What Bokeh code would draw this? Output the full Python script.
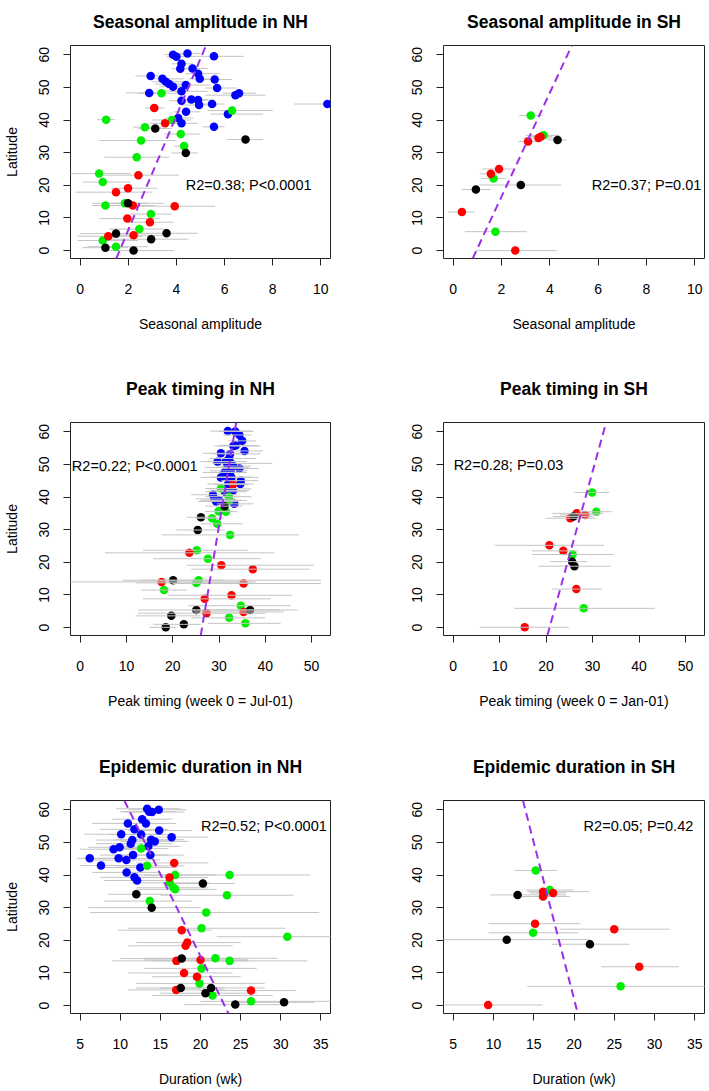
from bokeh.plotting import figure
from bokeh.layouts import column, row
from bokeh.models import Slope, Label, Range1d
from bokeh.embed import file_html
from bokeh.resources import INLINE

FONT = "Liberation Sans"

# ---------------- data: (latitude, estimate, lower, upper) ----------------
AMP_NH_BLUE = [
    (60.0, 3.86, 3.5, 4.5), (59.4, 4.00, 3.6, 4.5), (60.4, 4.46, 4.0, 5.0), (59.5, 5.56, 4.5, 6.8),
    (57.2, 4.21, 3.8, 4.7), (55.7, 4.16, 3.8, 4.6), (55.8, 4.67, 4.3, 5.3), (54.2, 4.90, 4.4, 5.8),
    (52.6, 4.97, 4.5, 5.4), (53.5, 2.93, 2.3, 3.5), (52.6, 3.42, 2.8, 4.3), (51.7, 3.56, 3.0, 4.3),
    (51.0, 3.70, 3.1, 4.5), (50.2, 3.86, 3.3, 4.6), (50.7, 4.39, 4.1, 5.4), (52.4, 5.59, 5.1, 6.3),
    (49.8, 5.69, 5.2, 6.5), (48.3, 2.87, 1.9, 3.3), (48.8, 4.21, 3.5, 5.3), (47.6, 6.45, 5.2, 7.7),
    (48.2, 6.60, 5.9, 7.3), (45.9, 4.21, 3.7, 5.0), (46.3, 4.62, 4.1, 5.3), (46.1, 4.90, 4.3, 5.6),
    (44.6, 4.94, 4.2, 5.7), (44.9, 5.48, 5.0, 6.0), (42.5, 4.40, 3.9, 5.0), (41.8, 6.14, 5.4, 7.6),
    (40.6, 4.07, 3.5, 4.7), (39.0, 4.21, 3.7, 4.9), (37.9, 5.56, 5.1, 6.0), (44.9, 10.27, 8.9, 11.6),
]
AMP_NH_GREEN = [
    (40.1, 1.08, 0.7, 1.45), (48.2, 3.38, 2.4, 4.4), (42.9, 6.31, 5.3, 8.0), (40.0, 3.82, 3.0, 4.6),
    (37.8, 2.69, 2.2, 3.4), (35.7, 4.18, 3.5, 5.0), (33.7, 2.53, 0.8, 4.0), (32.0, 4.32, 3.9, 4.5),
    (28.6, 2.35, 1.0, 3.7), (23.6, 0.79, -0.5, 2.1), (21.0, 0.94, 0.1, 2.1), (13.8, 1.05, 0.5, 2.0),
    (14.5, 1.86, 1.0, 2.8), (11.2, 2.94, 2.1, 3.8), (6.6, 2.46, 1.2, 3.6), (3.1, 0.94, -0.1, 2.4),
    (1.2, 1.49, 0.3, 2.8),
]
AMP_NH_RED = [
    (43.7, 3.08, 2.7, 3.5), (39.0, 3.53, 2.9, 4.4), (23.1, 2.42, 0.9, 4.1), (17.9, 1.49, -0.2, 3.0),
    (19.1, 1.99, 1.3, 3.2), (13.8, 2.19, 1.2, 3.1), (13.6, 3.93, 2.3, 5.6), (9.8, 1.96, 0.8, 3.3),
    (8.7, 2.90, 2.0, 3.9), (4.4, 1.17, -0.1, 2.6), (4.7, 2.22, 1.2, 3.4),
]
AMP_NH_BLACK = [
    (37.4, 3.12, 2.4, 3.8), (34.0, 6.87, 6.1, 7.6), (29.9, 4.39, 3.8, 4.9), (14.5, 1.99, 0.5, 3.5),
    (5.2, 1.49, 0.0, 3.0), (5.3, 3.59, 2.3, 4.9), (3.5, 2.95, 1.2, 4.5), (0.9, 1.05, 0.1, 2.0),
    (0.0, 2.22, 1.0, 3.9),
]

AMP_SH_GREEN = [(41.4, 3.21, 2.73, 3.7), (35.3, 3.74, 3.0, 4.4), (22.1, 1.67, 1.14, 2.18), (5.8, 1.75, 0.48, 3.05)]
AMP_SH_RED = [
    (34.5, 3.53, 2.9, 4.3), (34.9, 3.62, 3.2, 4.1), (33.4, 3.10, 2.69, 3.63), (25.0, 1.90, 1.21, 2.59),
    (23.5, 1.56, 1.1, 2.0), (11.8, 0.36, -0.23, 0.9), (0.0, 2.57, 0.94, 4.29),
]
AMP_SH_BLACK = [(33.9, 4.32, 3.9, 4.69), (18.7, 0.94, 0.36, 1.56), (20.1, 2.80, 1.08, 4.48)]

TIME_NH_BLUE = [
    (60.2, 31.9, 28.0, 37.0), (60.1, 33.5, 30.0, 37.5), (59.0, 34.4, 31.0, 37.0), (57.2, 35.0, 32.0, 38.0),
    (55.6, 33.1, 29.0, 39.0), (55.8, 33.6, 30.0, 38.5), (54.1, 35.5, 31.5, 39.5), (53.4, 30.4, 26.5, 35.0),
    (53.2, 32.4, 28.5, 39.0), (51.8, 32.2, 28.0, 38.0), (50.8, 29.7, 26.0, 33.5), (50.9, 31.5, 27.5, 36.0),
    (50.3, 32.6, 28.5, 41.5), (49.5, 33.0, 29.5, 37.0), (49.0, 31.8, 27.0, 36.5), (48.7, 34.4, 30.5, 38.5),
    (48.0, 32.5, 28.0, 36.0), (47.5, 31.2, 26.5, 36.0), (46.0, 30.4, 26.0, 35.0), (46.1, 31.9, 28.0, 37.0),
    (46.0, 32.7, 28.5, 38.5), (45.0, 34.7, 30.5, 38.5), (44.0, 34.6, 31.0, 37.5), (44.0, 32.0, 27.5, 36.0),
    (42.5, 32.0, 28.0, 37.0), (41.6, 31.3, 27.0, 36.0), (40.7, 28.7, 24.0, 34.0), (39.4, 29.0, 25.0, 33.5),
    (38.6, 29.4, 25.5, 34.0), (37.9, 33.3, 29.5, 37.5), (42.0, 33.0, 29.0, 36.5), (39.0, 30.0, 26.0, 35.0),
]
TIME_NH_GREEN = [
    (42.6, 30.4, 27.0, 34.0), (40.1, 32.1, 27.0, 37.0), (38.9, 32.2, 28.0, 36.0), (35.6, 29.9, 27.0, 33.0),
    (35.5, 31.5, 29.0, 34.0), (33.5, 28.5, 25.0, 31.0), (31.8, 29.6, 26.1, 35.1), (28.4, 32.4, 17.6, 47.3),
    (23.7, 25.2, 13.6, 36.2), (21.1, 27.6, 15.8, 39.0), (14.5, 25.6, 9.2, 52.0), (13.7, 25.1, 12.0, 37.0),
    (11.5, 18.1, 13.2, 23.0), (6.7, 34.7, 23.3, 45.5), (3.0, 32.2, 24.0, 40.0), (1.3, 35.7, 27.6, 43.3),
]
TIME_NH_RED = [
    (43.8, 33.0, 29.0, 36.5), (22.9, 23.6, 5.4, 41.9), (19.1, 30.5, 23.1, 50.5), (17.9, 37.3, 24.0, 49.5),
    (14.0, 17.6, -3.0, 38.0), (13.5, 35.3, 20.0, 52.0), (9.9, 32.7, 19.0, 45.8), (8.8, 26.9, 13.6, 41.2),
    (4.8, 35.3, 24.5, 44.0), (4.4, 27.3, 12.5, 40.0),
]
TIME_NH_BLACK = [
    (37.2, 31.2, 27.0, 35.0), (33.8, 26.1, 23.1, 29.5), (29.9, 25.4, 20.8, 31.2), (14.5, 20.1, 13.0, 31.0),
    (5.4, 25.1, 12.5, 43.0), (5.4, 36.7, 24.0, 47.0), (3.6, 19.7, 12.0, 26.0), (1.0, 22.4, 15.8, 26.1),
    (0.1, 18.5, 15.0, 20.8),
]

TIME_SH_GREEN = [(41.4, 29.9, 26.1, 33.6), (35.5, 30.8, 27.1, 34.1), (22.4, 25.7, 17.0, 34.6), (5.9, 28.1, 13.1, 43.4)]
TIME_SH_RED = [
    (35.0, 26.6, 21.3, 32.4), (34.5, 28.4, 23.0, 31.5), (33.5, 25.2, 19.9, 30.6), (25.2, 20.7, 8.9, 32.5),
    (23.5, 23.7, 17.0, 27.0), (11.8, 26.5, 21.3, 32.0), (0.1, 15.4, 5.7, 24.9),
]
TIME_SH_BLACK = [(34.0, 25.9, 21.5, 30.0), (20.2, 25.6, 20.8, 28.8), (18.8, 26.1, 18.4, 33.8)]

DUR_NH_BLUE = [
    (60.3, 13.35, 9.5, 17.5), (59.4, 13.6, 10.0, 17.0), (59.3, 13.96, 10.5, 18.0), (60.0, 14.8, 11.0, 18.2),
    (57.1, 12.73, 9.0, 16.5), (55.8, 13.2, 9.5, 17.0), (55.8, 10.95, 6.5, 15.0), (54.0, 11.77, 7.5, 16.0),
    (53.6, 14.85, 11.0, 19.0), (52.5, 10.12, 5.5, 14.5), (52.4, 12.6, 8.5, 17.0), (50.7, 11.5, 7.0, 16.0),
    (49.6, 11.3, 7.0, 16.5), (50.8, 13.85, 9.5, 18.0), (50.3, 14.3, 10.0, 18.5), (51.6, 16.4, 12.0, 21.0),
    (48.5, 9.92, 6.0, 14.0), (47.9, 9.17, 5.0, 13.5), (48.8, 13.5, 9.5, 17.5), (45.1, 6.2, 4.6, 12.2),
    (45.1, 9.8, 5.5, 14.0), (44.6, 10.76, 6.5, 15.0), (46.1, 11.6, 7.5, 16.0), (46.1, 13.75, 9.5, 18.0),
    (42.9, 7.6, 4.95, 12.2), (42.3, 12.5, 8.0, 17.0), (40.8, 10.8, 6.5, 15.0), (39.3, 11.77, 7.5, 16.0),
    (38.3, 12.1, 8.0, 16.5),
]
DUR_NH_GREEN = [
    (48.1, 12.61, 9.0, 16.0), (42.8, 13.35, 9.5, 18.0), (40.0, 16.84, 12.0, 22.0), (37.6, 16.18, 11.5, 21.0),
    (36.1, 16.64, 12.0, 21.0), (35.6, 16.84, 12.0, 22.0), (40.0, 23.63, 13.0, 33.7), (33.8, 23.3, 15.0, 31.6),
    (32.0, 13.68, 8.0, 19.0), (28.5, 20.71, 6.2, 34.8), (23.7, 20.13, 11.0, 30.6), (21.1, 30.82, 22.0, 38.0),
    (14.5, 21.86, 13.0, 29.6), (13.7, 23.63, 14.0, 33.3), (11.4, 20.13, 13.0, 27.0), (6.8, 19.88, 12.0, 28.0),
    (3.1, 21.49, 14.0, 29.0), (1.3, 26.3, 20.0, 38.0),
]
DUR_NH_RED = [
    (43.7, 16.72, 12.0, 21.0), (39.2, 16.14, 11.0, 21.0), (23.1, 17.66, 9.7, 21.4), (19.3, 18.36, 12.0, 25.0),
    (18.3, 18.15, 11.0, 24.0), (13.7, 17.0, 9.0, 26.0), (14.0, 20.0, 13.0, 26.0), (10.0, 17.95, 11.0, 24.0),
    (8.85, 19.56, 14.0, 25.0), (4.8, 16.97, 11.0, 23.0), (4.6, 26.3, 20.0, 31.9),
]
DUR_NH_BLACK = [
    (37.4, 20.3, 16.0, 24.3), (34.1, 12.0, 8.5, 16.0), (30.0, 13.92, 6.0, 20.0), (14.4, 17.66, 10.0, 25.0),
    (5.4, 17.54, 12.0, 23.0), (5.4, 21.32, 15.0, 28.0), (3.8, 20.62, 15.0, 27.0), (1.0, 30.41, 24.0, 34.2),
    (0.3, 24.33, 18.0, 31.0),
]

DUR_SH_GREEN = [(41.4, 15.25, 12.6, 17.85), (35.4, 16.98, 14.0, 19.9), (22.3, 14.92, 9.4, 20.5), (5.9, 25.79, 14.2, 38.0)]
DUR_SH_RED = [
    (34.9, 16.16, 14.2, 21.9), (34.5, 17.4, 14.5, 19.0), (33.4, 16.16, 13.5, 19.5), (25.1, 15.17, 9.4, 20.8),
    (23.4, 25.0, 18.3, 31.9), (11.9, 28.1, 23.4, 33.0), (0.2, 9.34, 3.6, 16.1),
]
DUR_SH_BLACK = [(33.9, 13.0, 9.6, 19.0), (20.2, 11.65, 3.0, 22.0), (18.8, 21.98, 17.2, 26.9)]

# regression lines (latitude = slope * x + intercept)
SLOPES = [17.5, 15.9, 8.52, 5.16, -5.03, -9.58]
INTERCEPTS = [-28.7, -15.27, -224.4, -107.0, 115.7, 193.7]
NOTES = ["R2=0.38; P<0.0001", "R2=0.37; P=0.01", "R2=0.22; P<0.0001",
         "R2=0.28; P=0.03", "R2=0.52; P<0.0001", "R2=0.05; P=0.42"]
NOTE_X = [7.0, 8.0, 11.8, 11.9, 27.9, 28.0]
NOTE_Y = [20.0, 20.0, 49.5, 49.8, 54.9, 54.9]
TITLES = ["Seasonal amplitude in NH", "Seasonal amplitude in SH", "Peak timing in NH",
          "Peak timing in SH", "Epidemic duration in NH", "Epidemic duration in SH"]
XLABELS = ["Seasonal amplitude", "Seasonal amplitude", "Peak timing (week 0 = Jul-01)",
           "Peak timing (week 0 = Jan-01)", "Duration (wk)", "Duration (wk)"]
XTICKS_AMP = [0, 2, 4, 6, 8, 10]
XTICKS_TIME = [0, 10, 20, 30, 40, 50]
XTICKS_DUR = [5, 10, 15, 20, 25, 30, 35]
YTICKS = [0, 10, 20, 30, 40, 50, 60]

COLORS = {"blue": "#0000ff", "green": "#00ee00", "red": "#ff0000", "black": "#000000"}

PANELS = [
    dict(groups=[("blue", AMP_NH_BLUE), ("green", AMP_NH_GREEN), ("red", AMP_NH_RED), ("black", AMP_NH_BLACK)],
         xr=(-0.4, 10.4), ticks=XTICKS_AMP, lines_on_top=False),
    dict(groups=[("green", AMP_SH_GREEN), ("red", AMP_SH_RED), ("black", AMP_SH_BLACK)],
         xr=(-0.4, 10.4), ticks=XTICKS_AMP, lines_on_top=False),
    dict(groups=[("blue", TIME_NH_BLUE), ("green", TIME_NH_GREEN), ("red", TIME_NH_RED), ("black", TIME_NH_BLACK)],
         xr=(-2.08, 54.08), ticks=XTICKS_TIME, lines_on_top=True),
    dict(groups=[("green", TIME_SH_GREEN), ("red", TIME_SH_RED), ("black", TIME_SH_BLACK)],
         xr=(-2.08, 54.08), ticks=XTICKS_TIME, lines_on_top=True),
    dict(groups=[("blue", DUR_NH_BLUE), ("green", DUR_NH_GREEN), ("red", DUR_NH_RED), ("black", DUR_NH_BLACK)],
         xr=(3.8, 36.2), ticks=XTICKS_DUR, lines_on_top=False),
    dict(groups=[("green", DUR_SH_GREEN), ("red", DUR_SH_RED), ("black", DUR_SH_BLACK)],
         xr=(3.8, 36.2), ticks=XTICKS_DUR, lines_on_top=False),
]

# layout (pixels)
ROW_H = [356, 378, 356]
ROW_TOP = [45, 66, 66]
ROW_BOTTOM = [98, 99, 77]
TITLE_STANDOFF = [23, 43, 43]
COL_W = [382, 326]
COL_LEFT = [69, 61]
COL_RIGHT = [52, 4]


def make_panel(i):
    spec = PANELS[i]
    r, c = divmod(i, 2)
    p = figure(width=COL_W[c], height=ROW_H[r], output_backend="svg", toolbar_location=None,
               x_range=Range1d(*spec["xr"]), y_range=Range1d(-2.42, 62.82),
               min_border_left=COL_LEFT[c], min_border_right=COL_RIGHT[c],
               min_border_top=ROW_TOP[r], min_border_bottom=ROW_BOTTOM[r],
               title=TITLES[i], background_fill_color="white", border_fill_color="white")
    p.title.text_font = FONT
    p.title.text_font_size = "17.5px"
    p.title.text_font_style = "bold"
    p.title.align = "center"
    p.title.vertical_align = "top"
    p.title.standoff = TITLE_STANDOFF[r]
    p.title.text_color = "black"

    p.xgrid.visible = False
    p.ygrid.visible = False
    p.outline_line_color = "#222222"
    p.outline_line_width = 1
    p.outline_line_alpha = 1

    for ax, ticks in ((p.xaxis[0], spec["ticks"]), (p.yaxis[0], YTICKS)):
        ax.ticker = ticks
        ax.axis_line_color = None
        ax.major_tick_out = 7
        ax.major_tick_in = 0
        ax.minor_tick_out = 0
        ax.minor_tick_in = 0
        ax.major_tick_line_color = "#222222"
        ax.major_label_text_font = FONT
        ax.major_label_text_font_size = "14px"
        ax.major_label_text_color = "black"
        ax.axis_label_text_font = FONT
        ax.axis_label_text_font_size = "14px"
        ax.axis_label_text_font_style = "normal"
        ax.axis_label_text_color = "black"
    p.xaxis.major_label_standoff = 18
    p.xaxis.axis_label = XLABELS[i]
    p.xaxis.axis_label_standoff = 19
    p.yaxis.major_label_standoff = 14
    p.yaxis.major_label_orientation = "vertical"
    if c == 0:
        p.yaxis.axis_label = "Latitude"
        p.yaxis.axis_label_standoff = 17

    def draw_lines():
        for name, data in spec["groups"]:
            lat = [d[0] for d in data]
            lo = [d[2] for d in data]
            hi = [d[3] for d in data]
            p.segment(x0=lo, y0=lat, x1=hi, y1=lat, line_color="#c4c4c4", line_width=1)

    def draw_points():
        for name, data in spec["groups"]:
            lat = [d[0] for d in data]
            val = [d[1] for d in data]
            p.scatter(x=val, y=lat, size=8.5, fill_color=COLORS[name], line_color=None)

    if spec["lines_on_top"]:
        draw_points()
        draw_lines()
    else:
        draw_lines()
        draw_points()

    p.add_layout(Slope(gradient=SLOPES[i], y_intercept=INTERCEPTS[i], line_color="#9b30e8",
                       line_width=2, line_dash="8 5"))
    p.add_layout(Label(x=NOTE_X[i], y=NOTE_Y[i], text=NOTES[i], text_align="center",
                       text_baseline="middle", text_font=FONT, text_font_size="14.5px",
                       text_color="black"))
    return p


figs = [make_panel(i) for i in range(6)]
layout = column(row(figs[0], figs[1]), row(figs[2], figs[3]), row(figs[4], figs[5]))
open("out.html", "w").write(file_html(layout, INLINE))
